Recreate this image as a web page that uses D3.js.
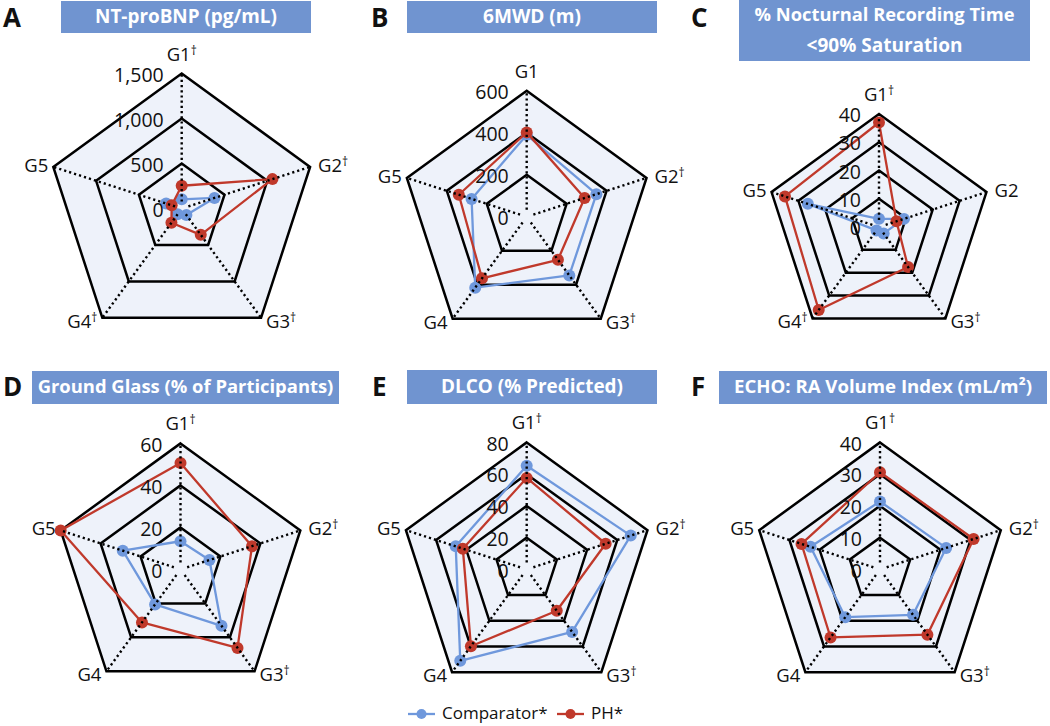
<!DOCTYPE html>
<html>
<head>
<meta charset="utf-8">
<script src="https://cdn.jsdelivr.net/npm/d3@7"></script>
<style>
  html, body { margin: 0; padding: 0; background: #ffffff; }
  svg { display: block; font-family: "Open Sans", "Noto Sans", sans-serif; }
</style>
</head>
<body>
<svg id="chart" width="1050" height="726"></svg>
<script>
// ---------------- data ----------------
const categories = ["G1", "G2", "G3", "G4", "G5"];
const panelLetters = ["A", "B", "C", "D", "E", "F"];
const panelTitles = [
  ["NT-proBNP (pg/mL)"],
  ["6MWD (m)"],
  ["% Nocturnal Recording Time", "<90% Saturation"],
  ["Ground Glass (% of Participants)"],
  ["DLCO (% Predicted)"],
  ["ECHO: RA Volume Index (mL/m\u00B2)"]
];
// dagger marks (significance) per panel for G1..G5
const daggers = [
  [true, true, true, true, false],
  [false, true, true, false, false],
  [true, false, true, true, false],
  [true, true, true, false, false],
  [true, true, true, false, false],
  [true, true, true, false, false]
];
const tickValues = [
  [0, 500, 1000, 1500],
  [0, 200, 400, 600],
  [0, 10, 20, 30, 40],
  [0, 20, 40, 60],
  [0, 20, 40, 60, 80],
  [0, 10, 20, 30, 40]
];
const seriesNames = ["Comparator*", "PH*"];
const comparatorValues = [
  [103, 383, 89, 78, 182],
  [390, 349, 345, 417, 276],
  [2.9, 9.3, 2.8, 1.5, 26.5],
  [13.4, 14.5, 33.2, 20.6, 28.9],
  [65.3, 68.9, 48.7, 71.2, 47],
  [21.4, 21.9, 17.7, 18.6, 23]
];
const phValues = [
  [254, 1060, 360, 194, 117],
  [402, 290, 253, 362, 340],
  [37, 6.5, 17.5, 36.3, 35],
  [50.7, 35.8, 46.2, 31.2, 60],
  [57.6, 52.3, 32.2, 59.8, 42.3],
  [30.6, 31, 25.4, 26.5, 26]
];

// ---------------- layout ----------------
const layout = [
  { cx: 181.7, cy: 208.6, R: 135, box: [61, 1, 311, 33], tw: [182], lx: 3, ly: 27 },
  { cx: 526.7, cy: 216.8, R: 126, box: [407, 1, 657, 33], tw: [98], lx: 371, ly: 27 },
  { cx: 879, cy: 227, R: 113, box: [739, 0, 1030, 61], tw: [260, 156], lx: 691, ly: 27 },
  { cx: 180.5, cy: 569.4, R: 126, box: [32, 371, 339, 404], tw: [296], lx: 3, ly: 396 },
  { cx: 526.7, cy: 569.4, R: 127, box: [407, 370, 657, 404], tw: [182], lx: 372, ly: 396 },
  { cx: 880, cy: 569.4, R: 127, box: [719, 371, 1047, 404], tw: [298], lx: 691, ly: 396 }
];
const colors = { comp: "#6f98dc", ph: "#c0392b", box: "#7094d0", fill: "#eef2fa" };

const svg = d3.select("#chart");
const fmt = d3.format(",");
const angle = d3.scaleLinear().domain([0, categories.length]).range([0, 2 * Math.PI]);

function pt(cx, cy, r, i) {
  const a = angle(i);
  return [cx + r * Math.sin(a), cy - r * Math.cos(a)];
}

layout.forEach((L, p) => {
  const g = svg.append("g");
  const ticks = tickValues[p];
  const maxV = d3.max(ticks);
  const r = d3.scaleLinear().domain([0, maxV]).range([0, L.R]);
  const line = d3.line().curve(d3.curveLinearClosed);

  // panel letter
  g.append("text").attr("x", L.lx).attr("y", L.ly)
    .attr("font-size", 26).attr("font-weight", 700).attr("fill", "#111")
    .text(panelLetters[p]);

  // title box
  const [bx0, by0, bx1, by1] = L.box;
  g.append("rect").attr("x", bx0).attr("y", by0).attr("width", bx1 - bx0).attr("height", by1 - by0)
    .attr("fill", colors.box);
  const lines = panelTitles[p];
  const lh = (by1 - by0) / lines.length;
  lines.forEach((t, k) => {
    const tt = g.append("text").attr("x", (bx0 + bx1) / 2).attr("y", by0 + lh * (k + 0.5) + 1)
      .attr("text-anchor", "middle").attr("dominant-baseline", "middle")
      .attr("font-size", 20).attr("font-weight", 700).attr("fill", "#fff")
      .text(t);
    const natural = tt.node().getComputedTextLength();
    const fs = Math.min(20.5, 20 * L.tw[k] / natural);
    tt.attr("font-size", fs.toFixed(2));
  });

  // outer fill
  g.append("path")
    .attr("d", line(categories.map((c, i) => pt(L.cx, L.cy, r(maxV), i))))
    .attr("fill", colors.fill).attr("stroke", "none");

  // grid pentagons
  ticks.filter(t => t > 0).forEach(t => {
    g.append("path")
      .attr("d", line(categories.map((c, i) => pt(L.cx, L.cy, r(t), i))))
      .attr("fill", "none").attr("stroke", "#000").attr("stroke-width", 2.5)
      .attr("stroke-linejoin", "miter");
  });

  // series
  const series = [
    { vals: comparatorValues[p], color: colors.comp },
    { vals: phValues[p], color: colors.ph }
  ];
  series.forEach(s => {
    const pts = s.vals.map((v, i) => pt(L.cx, L.cy, r(v), i));
    g.append("path").attr("d", line(pts)).attr("fill", "none")
      .attr("stroke", s.color).attr("stroke-width", 2.3).attr("stroke-linejoin", "round");
    g.selectAll(null).data(pts).enter().append("circle")
      .attr("cx", d => d[0]).attr("cy", d => d[1]).attr("r", 6)
      .attr("fill", s.color);
  });

  // dotted axes (on top)
  categories.forEach((c, i) => {
    const a = pt(L.cx, L.cy, 7, i);
    const b = pt(L.cx, L.cy, r(maxV), i);
    g.append("line").attr("x1", a[0]).attr("y1", a[1]).attr("x2", b[0]).attr("y2", b[1])
      .attr("stroke", "#000").attr("stroke-width", 2.4).attr("stroke-dasharray", "2.2 3");
  });

  // tick labels
  ticks.forEach(t => {
    g.append("text").attr("x", L.cx - 18).attr("y", L.cy - r(t) + 3)
      .attr("text-anchor", "end").attr("dominant-baseline", "middle")
      .attr("font-size", 19.5).attr("fill", "#111")
      .text(fmt(t));
  });

  // category labels
  categories.forEach((c, i) => {
    const v = pt(L.cx, L.cy, r(maxV), i);
    let x = v[0], y = v[1], anchor = "middle";
    if (i === 0) { y -= 18; }
    else if (i === 1) { x += 8; anchor = "start"; }
    else if (i === 2) { x += 5; y += 5; anchor = "start"; }
    else if (i === 3) { x -= 5; y += 5; anchor = "end"; }
    else { x -= 5; anchor = "end"; }
    const tx = g.append("text").attr("x", x).attr("y", y)
      .attr("text-anchor", anchor).attr("dominant-baseline", "middle")
      .attr("font-size", 18.5).attr("fill", "#111");
    tx.append("tspan").text(c);
    if (daggers[p][i]) {
      tx.append("tspan").attr("font-size", 12).attr("dy", -4).text("\u2020");
    }
  });
});

// legend
const legend = svg.append("g");
const legendItems = [
  { name: seriesNames[0], color: colors.comp, x: 408 },
  { name: seriesNames[1], color: colors.ph, x: 557 }
];
legendItems.forEach(it => {
  legend.append("line").attr("x1", it.x).attr("x2", it.x + 27).attr("y1", 714).attr("y2", 714)
    .attr("stroke", it.color).attr("stroke-width", 2.3);
  legend.append("circle").attr("cx", it.x + 13.5).attr("cy", 714).attr("r", 5).attr("fill", it.color);
  legend.append("text").attr("x", it.x + 34).attr("y", 714)
    .attr("dominant-baseline", "middle").attr("font-size", 17).attr("fill", "#111")
    .text(it.name);
});
</script>
</body>
</html>
